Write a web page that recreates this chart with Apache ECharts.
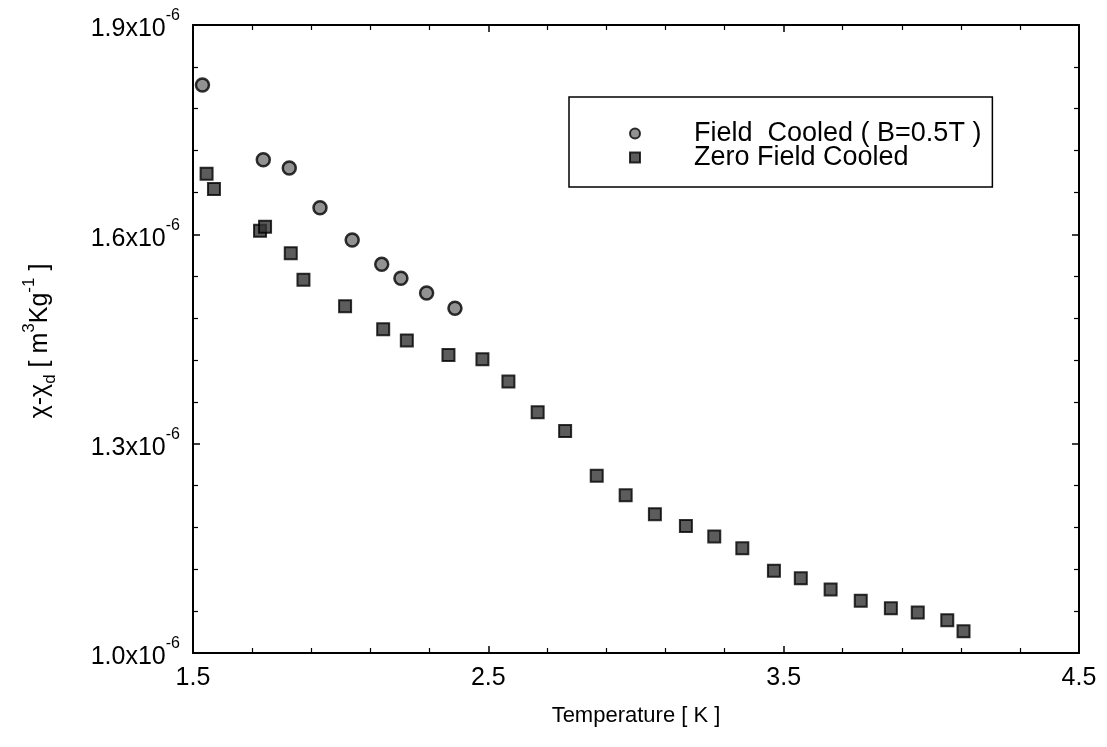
<!DOCTYPE html>
<html>
<head>
<meta charset="utf-8">
<script src="https://cdn.jsdelivr.net/npm/echarts@6/dist/echarts.min.js"></script>
<style>
  html, body { margin: 0; padding: 0; background: #fff; }
  #chart { width: 1107px; height: 747px; }
</style>
</head>
<body>
<div id="chart"></div>
<script>
// values of chi in units of 1e-6 m^3/kg
var fcTemp = [1.532, 1.738, 1.826, 1.930, 2.039, 2.139, 2.204, 2.291, 2.387]
var fcChi = [1.814, 1.707, 1.695, 1.638, 1.592, 1.557, 1.537, 1.516, 1.494]

var zfcTemp = [1.546, 1.571, 1.727, 1.744, 1.831, 1.874, 2.015, 2.144, 2.224, 2.365, 2.480,
  2.568, 2.667, 2.760, 2.867, 2.965, 3.064, 3.169, 3.265, 3.360, 3.467, 3.558, 3.659,
  3.761, 3.863, 3.954, 4.054, 4.109]
var zfcChi = [1.687, 1.665, 1.605, 1.611, 1.573, 1.535, 1.497, 1.464, 1.448, 1.427, 1.421,
  1.389, 1.345, 1.318, 1.254, 1.226, 1.199, 1.182, 1.167, 1.150, 1.118, 1.107, 1.091,
  1.075, 1.064, 1.058, 1.047, 1.031]

var xTicks = ['1.5', '2.5', '3.5', '4.5']
var yTicks = ['1.0', '1.3', '1.6', '1.9']
var seriesNames = ['Field  Cooled ( B=0.5T )', 'Zero Field Cooled']

function pairs(xs, ys) {
  return xs.map(function(x, i) { return [x, ys[i]] })
}

var font = 'Liberation Sans, Arial, Helvetica, sans-serif'
var chart = echarts.init(document.getElementById('chart'))

var axisLine = { show: true, lineStyle: { color: '#000', width: 2 } }
var axisTick = { show: true, inside: true, length: 7, lineStyle: { color: '#000', width: 1.5 } }
var minorTick = { show: true, splitNumber: 5, length: 5, lineStyle: { color: '#000', width: 1.2 } }

chart.setOption({
  animation: false,
  backgroundColor: '#fff',
  grid: {
    left: 193,
    right: 28,
    top: 25,
    bottom: 94
  },
  xAxis: [{
    type: 'value',
    min: 1.5,
    max: 4.5,
    interval: 1,
    name: 'Temperature [ K ]',
    nameLocation: 'middle',
    nameGap: 52,
    nameTextStyle: { color: '#000', fontSize: 22, fontFamily: font },
    axisLine: axisLine,
    axisTick: axisTick,
    minorTick: minorTick,
    splitLine: { show: false },
    axisLabel: {
      color: '#000',
      fontSize: 25,
      fontFamily: font,
      margin: 13,
      formatter: function(v) {
        var s = v.toFixed(1)
        return xTicks.indexOf(s) >= 0 ? s : ''
      }
    }
  }, {
    type: 'value',
    position: 'top',
    min: 1.5,
    max: 4.5,
    interval: 1,
    axisLine: axisLine,
    axisTick: axisTick,
    minorTick: minorTick,
    splitLine: { show: false },
    axisLabel: { show: false }
  }],
  yAxis: [{
    type: 'value',
    min: 1.0,
    max: 1.9,
    interval: 0.3,
    axisLine: axisLine,
    axisTick: axisTick,
    minorTick: minorTick,
    splitLine: { show: false },
    axisLabel: {
      margin: 13,
      formatter: function(v) {
        var s = v.toFixed(1)
        return yTicks.indexOf(s) >= 0 ? '{a|' + s + 'x10}{s|-6}' : ''
      },
      rich: {
        a: { color: '#000', fontSize: 25, fontFamily: font, lineHeight: 34, verticalAlign: 'bottom' },
        s: { color: '#000', fontSize: 16, fontFamily: font, lineHeight: 34, verticalAlign: 'top' }
      }
    }
  }, {
    type: 'value',
    position: 'right',
    min: 1.0,
    max: 1.9,
    interval: 0.3,
    axisLine: axisLine,
    axisTick: axisTick,
    minorTick: minorTick,
    splitLine: { show: false },
    axisLabel: { show: false }
  }],
  legend: {
    orient: 'vertical',
    left: 569,
    top: 97,
    padding: [23, 11, 16, 60],
    itemGap: -3,
    itemWidth: 10,
    itemHeight: 10,
    borderColor: '#000',
    borderWidth: 1.5,
    borderRadius: 0,
    backgroundColor: '#fff',
    data: seriesNames,
    textStyle: {
      color: '#000',
      fontSize: 27,
      fontFamily: font,
      lineHeight: 24,
      padding: [0, 0, 0, 49]
    }
  },
  graphic: [{
    type: 'text',
    x: 40,
    y: 341,
    rotation: Math.PI / 2,
    style: {
      text: '{m|χ-χ}{sub|d}{m| [ m}{sup|3}{m|Kg}{sup|-1}{m| ]}',
      align: 'center',
      verticalAlign: 'middle',
      rich: {
        m: { fill: '#000', fontSize: 25, fontFamily: font, lineHeight: 38, verticalAlign: 'middle' },
        sub: { fill: '#000', fontSize: 17, fontFamily: font, lineHeight: 38, verticalAlign: 'bottom' },
        sup: { fill: '#000', fontSize: 17, fontFamily: font, lineHeight: 38, verticalAlign: 'top' }
      }
    }
  }],
  series: [{
    name: seriesNames[0],
    type: 'scatter',
    symbol: 'circle',
    symbolSize: 13,
    itemStyle: { color: '#777', borderColor: '#000', borderWidth: 2.5 },
    data: pairs(fcTemp, fcChi)
  }, {
    name: seriesNames[1],
    type: 'scatter',
    symbol: 'rect',
    symbolSize: 12,
    itemStyle: { color: '#333', borderColor: '#000', borderWidth: 2 },
    data: pairs(zfcTemp, zfcChi)
  }]
})
</script>
</body>
</html>
